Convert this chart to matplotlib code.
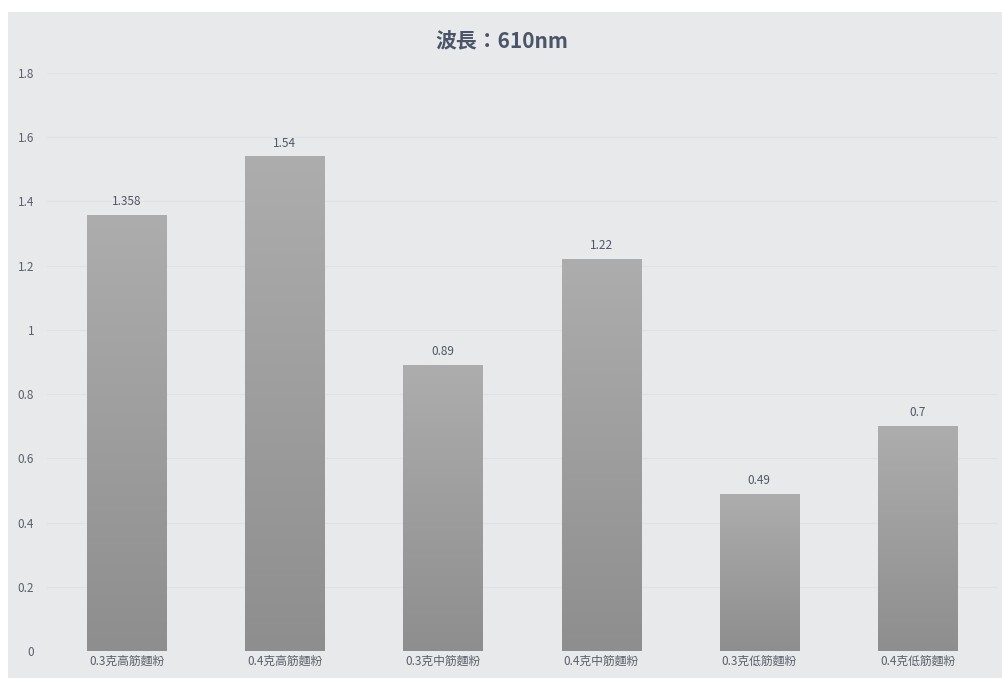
import matplotlib
matplotlib.use("Agg")
import matplotlib.pyplot as plt
import numpy as np
from matplotlib.patches import Rectangle
from matplotlib.colors import LinearSegmentedColormap

plt.rcParams['font.family'] = ['Noto Sans CJK TC', 'DejaVu Sans']

categories = ["0.3克高筋麵粉", "0.4克高筋麵粉", "0.3克中筋麵粉", "0.4克中筋麵粉", "0.3克低筋麵粉", "0.4克低筋麵粉"]
values = [1.358, 1.54, 0.89, 1.22, 0.49, 0.7]
labels = ["1.358", "1.54", "0.89", "1.22", "0.49", "0.7"]
yticks = [0, 0.2, 0.4, 0.6, 0.8, 1.0, 1.2, 1.4, 1.6, 1.8]
ytick_labels = ["0", "0.2", "0.4", "0.6", "0.8", "1", "1.2", "1.4", "1.6", "1.8"]
title = "波長：610nm"

W, H = 1003, 678
fig = plt.figure(figsize=(W / 100, H / 100), dpi=100)
fig.patch.set_facecolor("white")

# gray chart area background
bg = fig.add_axes([8 / W, 0, 1 - 8 / W, 1 - 12 / H])
bg.set_facecolor("#e8e9ea")
bg.set_xticks([]); bg.set_yticks([])
for s in bg.spines.values():
    s.set_visible(False)

left, right = 47.4, 996.6
y0, y18 = 651, 73
ax = fig.add_axes([left / W, 1 - y0 / H, (right - left) / W, (y0 - y18) / H])
ax.set_facecolor("none")

ax.set_yticks(yticks)
ax.set_yticklabels(ytick_labels)
ax.yaxis.grid(True, color="#dde1e8", linewidth=0.8)
ax.set_axisbelow(True)
for s in ax.spines.values():
    s.set_visible(False)
ax.tick_params(axis="both", length=0, labelsize=8.5, colors="#595f6b")
ax.tick_params(axis="y", pad=9.5)
ax.tick_params(axis="x", pad=3)
ax.set_xticks(range(len(categories)))
ax.set_xticklabels(categories)

x = np.arange(len(categories))
bars = ax.bar(x, values, width=0.5, color="none", edgecolor="none", zorder=2)

grad = np.linspace(0, 1, 256).reshape(-1, 1)
cmap = LinearSegmentedColormap.from_list("g", ["#8e8e8e", "#adadad"])
for b in bars:
    bx, by = b.get_x(), b.get_y()
    bw, bh = b.get_width(), b.get_height()
    im = ax.imshow(grad, extent=[bx, bx + bw, 0, bh], origin="lower", cmap=cmap,
                   aspect="auto", zorder=2)
    clip = Rectangle((bx, by), bw, bh, transform=ax.transData)
    im.set_clip_path(clip)

ax.set_xlim(-0.5, len(categories) - 0.5)
ax.set_ylim(0, 1.8)

for xi, v, lab in zip(x, values, labels):
    ax.annotate(lab, (xi, v), xytext=(0, 5), textcoords="offset points",
                ha="center", va="bottom", fontsize=8.5, color="#4f5666")

fig.text(0.5, 1 - 42 / H, title, ha="center", va="center", fontsize=15,
         fontweight="bold", color="#4a5568")

fig.savefig("out.png", dpi=100, facecolor=fig.get_facecolor())
